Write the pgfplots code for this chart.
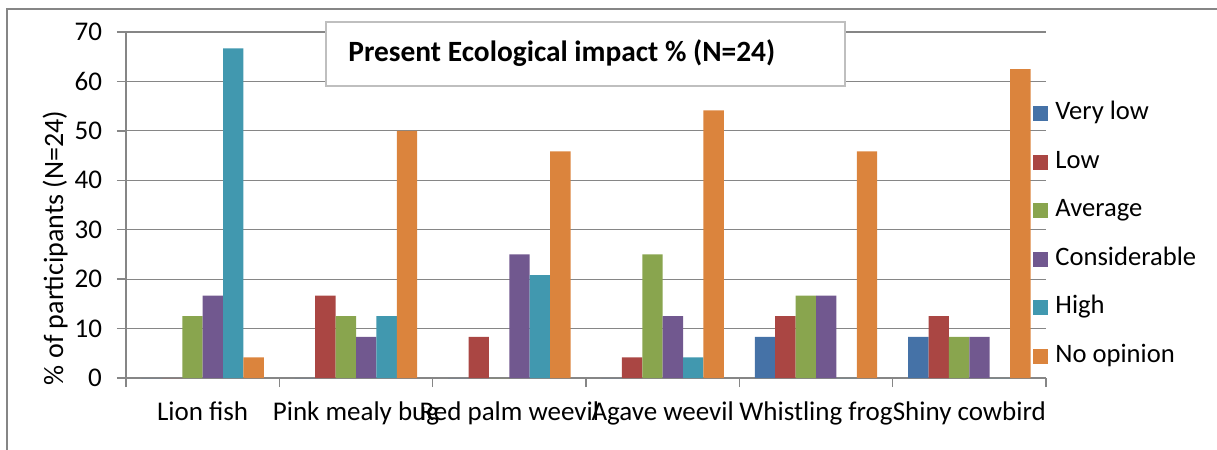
\documentclass[border=0pt]{standalone}
\usepackage{pgfplots}
\pgfplotsset{compat=1.18}
\usepackage{fontspec}
\setmainfont{Carlito}
\definecolor{cVlow}{HTML}{4572A7}
\definecolor{cLow}{HTML}{AA4643}
\definecolor{cAvg}{HTML}{89A54E}
\definecolor{cCons}{HTML}{71588F}
\definecolor{cHigh}{HTML}{4198AF}
\definecolor{cNoop}{HTML}{DB843D}
\definecolor{gridc}{HTML}{868686}
\begin{document}
\begin{tikzpicture}[x=0.5pt,y=0.5pt]
\useasboundingbox (0,0) rectangle (1217,450);
\draw[gridc, line width=0.75pt] (7,-20) -- (7,441) -- (1240,441);
\begin{axis}[
  at={(63pt,36pt)}, anchor=south west,
  scale only axis, width=460pt, height=173pt,
  xmin=-0.5, xmax=5.5, ymin=0, ymax=70,
  ytick={0,10,...,70},
  xtick={-0.5,0.5,...,5.5}, xticklabels={},
  extra x ticks={0,1,2,3,4,5},
  extra x tick labels={Lion fish,Pink mealy bug,Red palm weevil,Agave weevil,Whistling frog,Shiny cowbird},
  extra x tick style={major tick length=0pt, grid=none, xticklabel style={yshift=-8.5pt}},
  axis x line*=bottom, axis y line*=left,
  axis line style={gridc, line width=0.75pt},
  tick style={gridc, line width=0.75pt},
  tick align=outside, major tick length=4.5pt,
  ymajorgrids, major grid style={gridc, line width=0.6pt},
  tick label style={font=\fontsize{13.5}{15}\selectfont, black},
  yticklabel style={xshift=-4pt},
  /pgf/number format/assume math mode=true,
  ylabel={\% of participants (N=24)},
  ylabel style={font=\fontsize{14}{16}\selectfont, at={(axis description cs:-0.077,0.376)}, anchor=center},
  ybar=0pt, bar width=10.2pt,
  legend style={at={(axis description cs:0.9859,0.8)}, anchor=north west,
    draw=none, fill=none, inner sep=0pt, row sep=12.25pt, column sep=3.5pt,
    font=\fontsize{13.3}{15}\selectfont,
    nodes={inner sep=0pt, text height=9pt, text depth=3pt}},
  legend cell align=left,
  legend image code/.code={\fill[#1] (0pt,-3.75pt) rectangle (7.5pt,3.75pt);},
]
\addplot[fill=cVlow, draw=none] coordinates {(0,0) (1,0) (2,0) (3,0) (4,8.33) (5,8.33)};
\addplot[fill=cLow, draw=none] coordinates {(0,0) (1,16.67) (2,8.33) (3,4.17) (4,12.5) (5,12.5)};
\addplot[fill=cAvg, draw=none] coordinates {(0,12.5) (1,12.5) (2,0) (3,25) (4,16.67) (5,8.33)};
\addplot[fill=cCons, draw=none] coordinates {(0,16.67) (1,8.33) (2,25) (3,12.5) (4,16.67) (5,8.33)};
\addplot[fill=cHigh, draw=none] coordinates {(0,66.67) (1,12.5) (2,20.83) (3,4.17) (4,0) (5,0)};
\addplot[fill=cNoop, draw=none] coordinates {(0,4.17) (1,50) (2,45.83) (3,54.17) (4,45.83) (5,62.5)};
\legend{Very low,Low,Average,Considerable,High,No opinion}
\end{axis}
\draw[draw=black!25, line width=0.75pt, fill=white] (326,364) rectangle (845,428);
\node[anchor=west, inner sep=0pt, font=\bfseries\fontsize{14.7}{16}\selectfont] at (348,397) {Present Ecological impact \% (N=24)};
\end{tikzpicture}
\end{document}
